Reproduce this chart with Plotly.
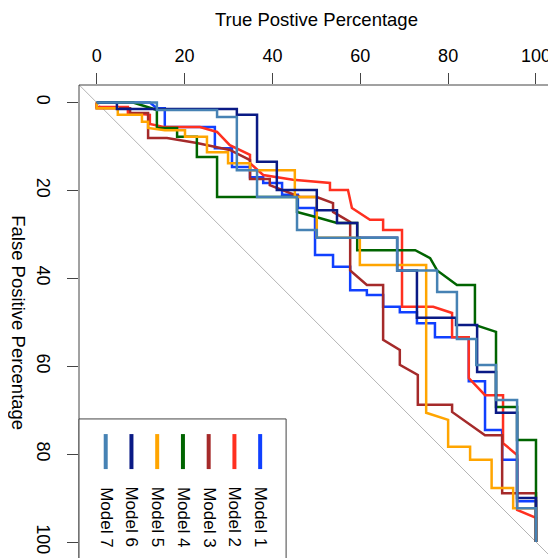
import plotly.graph_objects as go

# ---- data (percentages) ----
models = ["Model 1", "Model 2", "Model 3", "Model 4", "Model 5", "Model 6", "Model 7"]
colors = ["#1040ff", "#ff3020", "#a52a2a", "#006400", "#ffa500", "#0a1a85", "#4682b4"]

m1_tp = [0, 12.1, 13.7, 15.5, 15.5, 26.9, 26.9, 30.8, 30.8, 34.9, 34.9, 37.9, 37.9, 42.2, 42.2, 45.8, 45.8,
         49.7, 49.7, 53.8, 53.8, 57.7, 57.7, 61.5, 61.5, 65.2, 65.2, 69.0, 69.0, 72.9, 72.9, 77.0, 77.0,
         84.7, 84.7, 88.4, 88.4, 92.3, 92.3, 95.7, 95.7, 100, 100]
m1_fp = [0, 0, 1.3, 1.3, 5.6, 5.6, 10.4, 10.4, 14.7, 14.7, 17.0, 17.0, 18.3, 18.3, 21.0, 21.0, 24.0,
         24.0, 34.7, 34.7, 37.4, 37.4, 42.7, 42.7, 43.8, 43.8, 46.5, 46.5, 47.7, 47.7, 50.2, 50.2, 53.4,
         53.4, 63.4, 63.4, 74.5, 74.5, 81.3, 81.3, 90.7, 90.7, 100]

m2_tp = [0, 0, 7.1, 7.1, 12.1, 12.1, 15.5, 23.5, 27.4, 30.3, 34.9, 34.9, 37.9, 44.7, 53.1, 53.1, 57.2,
         58.1, 62.2, 65.2, 65.2, 69.5, 69.5, 76.6, 80.9, 80.9, 84.7, 84.7, 88.4, 92.5, 92.5, 95.7, 95.7,
         100, 100]
m2_fp = [0, 1.0, 1.0, 2.4, 2.8, 4.9, 5.6, 5.6, 6.7, 9.7, 11.9, 13.8, 16.5, 17.6, 18.3, 19.9, 19.9,
         24.0, 26.7, 26.7, 29.0, 29.0, 46.5, 46.5, 47.9, 53.4, 53.4, 62.7, 66.6, 66.6, 77.5, 80.2, 92.7,
         94.5, 100]

m3_tp = [0, 0, 7.6, 7.6, 11.7, 11.7, 16.0, 22.8, 30.3, 34.9, 34.9, 39.4, 39.4, 42.4, 46.3, 50.1, 53.8,
         53.8, 57.7, 57.7, 61.5, 65.2, 65.2, 69.0, 69.0, 73.1, 73.1, 80.9, 80.9, 88.4, 92.3, 92.3, 100, 100]
m3_fp = [0, 1.3, 1.3, 2.4, 2.4, 8.1, 8.1, 9.2, 10.8, 13.1, 17.4, 17.4, 18.8, 19.9, 21.5, 21.5, 22.9,
         24.9, 27.2, 38.2, 41.5, 41.5, 54.0, 56.3, 59.7, 62.0, 68.8, 68.8, 70.4, 75.7, 75.7, 88.9, 88.9, 100]

m4_tp = [0, 8.3, 13.7, 13.7, 18.3, 18.3, 22.8, 22.8, 27.4, 27.4, 45.6, 45.6, 50.1, 54.7, 59.3, 59.3,
         72.5, 75.9, 77.5, 82.0, 86.1, 86.1, 90.9, 90.9, 95.7, 95.7, 100, 100]
m4_fp = [0, 0, 1.7, 5.8, 5.8, 7.8, 7.8, 12.4, 12.4, 21.5, 21.5, 24.9, 26.1, 27.4, 27.4, 33.6,
         33.6, 35.4, 38.2, 41.5, 41.5, 50.6, 52.2, 69.3, 69.3, 76.8, 76.8, 100]

m5_tp = [0, 0, 4.8, 4.8, 10.3, 10.3, 11.7, 11.7, 15.5, 20.1, 20.1, 25.1, 25.1, 29.9, 29.9, 34.9, 34.9,
         45.1, 45.1, 50.1, 50.1, 59.9, 59.9, 75.0, 75.0, 80.0, 80.0, 85.0, 85.0, 89.9, 89.9, 94.8, 94.8,
         100, 100]
m5_fp = [0, 1.3, 1.3, 2.8, 2.8, 4.4, 4.4, 5.8, 6.3, 6.3, 7.8, 7.8, 11.3, 11.3, 13.8, 13.8, 15.4,
         15.4, 21.5, 21.5, 30.8, 30.8, 37.0, 37.0, 70.6, 72.2, 78.3, 78.3, 81.3, 81.3, 87.7, 87.7, 92.3,
         92.3, 100]

m6_tp = [0, 4.6, 4.6, 31.9, 31.9, 36.5, 36.5, 41.0, 41.0, 50.1, 50.1, 54.7, 54.7, 59.3, 59.3, 68.4,
         68.4, 72.9, 72.9, 81.8, 81.8, 86.6, 86.6, 90.9, 90.9, 95.7, 95.7, 100, 100]
m6_fp = [0, 0, 1.5, 1.5, 2.8, 2.8, 13.5, 13.5, 19.9, 19.9, 24.5, 24.5, 27.4, 27.4, 30.8, 30.8,
         38.2, 38.2, 49.0, 49.0, 50.6, 50.6, 61.3, 61.3, 70.6, 70.6, 90.0, 90.0, 100]

m7_tp = [0, 13.7, 13.7, 27.4, 27.4, 31.9, 31.9, 36.5, 36.5, 45.6, 45.6, 50.1, 50.1, 68.4, 68.4, 77.5,
         77.5, 82.0, 82.0, 86.4, 86.4, 90.9, 90.9, 95.7, 95.7, 100, 100]
m7_fp = [0, 0, 1.7, 1.7, 3.3, 3.3, 15.4, 15.4, 21.5, 21.5, 29.0, 29.0, 30.8, 30.8, 38.2, 38.2,
         43.1, 43.1, 53.8, 53.8, 59.7, 59.7, 67.7, 67.7, 92.3, 92.3, 100]

tp_series = [m1_tp, m2_tp, m3_tp, m4_tp, m5_tp, m6_tp, m7_tp]
fp_series = [m1_fp, m2_fp, m3_fp, m4_fp, m5_fp, m6_fp, m7_fp]

tick_vals = [0, 20, 40, 60, 80, 100]
diag = [-10, 110]

FONT = "Liberation Sans, Arial, sans-serif"

fig = go.Figure()

fig.add_trace(go.Scatter(x=diag, y=diag, mode="lines",
                         line=dict(color="#b4b4b4", width=1), showlegend=False, hoverinfo="skip"))

for name, col, tp, fp in zip(models, colors, tp_series, fp_series):
    fig.add_trace(go.Scatter(x=tp, y=fp, mode="lines", name=name,
                             line=dict(color=col, width=2.5), showlegend=False))

shapes = []
# box (left, top, right)
for x0, y0, x1, y1 in [(0, 0, 0, 1), (0, 1, 1, 1), (1, 0, 1, 1)]:
    shapes.append(dict(type="line", xref="paper", yref="paper", x0=x0, y0=y0, x1=x1, y1=y1,
                       line=dict(color="#444", width=1)))
# legend box
shapes.append(dict(type="rect", xref="paper", yref="paper", x0=0, x1=0.436, y0=-0.1, y1=0.294,
                   line=dict(color="#444", width=1), fillcolor="white", layer="above"))

annotations = []
leg_x0 = 2.05
leg_step = 5.86
for i, (name, col) in enumerate(zip(models[::-1], colors[::-1])):
    lx = leg_x0 + i * leg_step
    shapes.append(dict(type="line", xref="x", yref="paper", x0=lx, x1=lx, y0=0.188, y1=0.262,
                       line=dict(color=col, width=4), layer="above"))
    annotations.append(dict(x=lx, y=0.087, xref="x", yref="paper", text=name, textangle=90,
                            showarrow=False, xanchor="center", yanchor="middle",
                            font=dict(family=FONT, size=17, color="black")))

annotations.append(dict(x=50, y=1.139, xref="x", yref="paper", text="True Postive Percentage",
                        showarrow=False, xanchor="center", yanchor="middle",
                        font=dict(family=FONT, size=18.5, color="black")))
annotations.append(dict(x=-0.1263, y=50, xref="paper", yref="y", text="False Positive Percentage",
                        textangle=90, showarrow=False, xanchor="center", yanchor="middle",
                        font=dict(family=FONT, size=18.5, color="black")))

# page body has an 8px default margin: the figure is sized/offset to compensate
fig.update_layout(
    width=548, height=550,
    margin=dict(l=71, r=2, t=77, b=0, autoexpand=False),
    paper_bgcolor="white", plot_bgcolor="white",
    shapes=shapes, annotations=annotations,
    xaxis=dict(range=[-4.03, 104.1], side="top", tickvals=tick_vals, ticks="outside",
               ticklen=11, tickwidth=1, tickcolor="#444", showgrid=False, zeroline=False,
               showline=False, automargin=False,
               tickfont=dict(family=FONT, size=18, color="black"), ticklabelstandoff=4),
    yaxis=dict(range=[103.64, -3.98], tickvals=tick_vals, ticks="outside", ticklen=11,
               tickwidth=1, tickcolor="#444", showgrid=False, zeroline=False, showline=False,
               automargin=False, tickangle=90,
               tickfont=dict(family=FONT, size=18, color="black"), ticklabelstandoff=8),
    font=dict(family=FONT, size=17, color="black"),
)

fig.write_html("out.html")
